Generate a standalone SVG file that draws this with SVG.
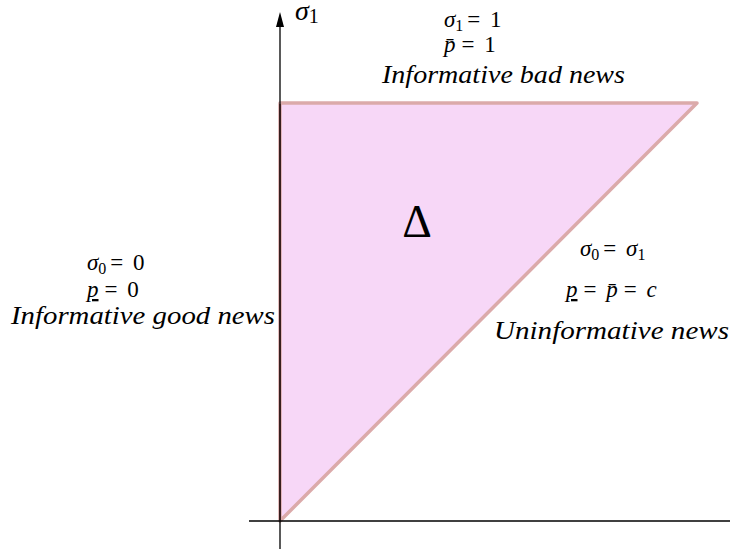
<svg xmlns="http://www.w3.org/2000/svg" width="731" height="554" viewBox="0 0 731 554">
<rect width="731" height="554" fill="#fff"/>
<g id="region">
<polygon points="280,521 280,103 697,103" fill="#f7d7f7" stroke="#dbaaaa" stroke-width="3.5" stroke-linejoin="round"/>
<line x1="280" y1="104" x2="280" y2="520" stroke="#8a3a3a" stroke-width="1.5"/>
<text x="417" y="237" font-family="Liberation Serif" font-size="46" text-anchor="middle">Δ</text>
</g>
<g id="connectors" stroke="#000" stroke-width="1.3" fill="none">
<line x1="249" y1="521" x2="730" y2="521"/>
<line x1="280" y1="549" x2="280" y2="24"/>
<polygon points="280,12 276,27 284,27" fill="#000" stroke="none"/>
</g>
<g id="axis-label">
<text x="295" y="20" font-family="Liberation Serif" font-size="28" font-style="italic">σ<tspan font-style="normal" font-size="20" dy="3">1</tspan></text>
</g>
<g id="top-label">
<text x="444" y="27" font-family="Liberation Serif" font-size="23"><tspan font-style="italic">σ</tspan><tspan font-size="16" dy="4">1</tspan><tspan dy="-4" dx="4">= </tspan><tspan dx="4">1</tspan></text>
<text x="444" y="52" font-family="Liberation Serif" font-size="23"><tspan font-style="italic">p̄</tspan><tspan dx="6">= </tspan><tspan dx="4">1</tspan></text>
<text x="382" y="83" font-family="Liberation Serif" font-size="26" font-style="italic" textLength="243" lengthAdjust="spacingAndGlyphs">Informative bad news</text>
</g>
<g id="left-label">
<text x="87" y="270" font-family="Liberation Serif" font-size="23"><tspan font-style="italic">σ</tspan><tspan font-size="16" dy="4">0</tspan><tspan dy="-4" dx="4">= </tspan><tspan dx="4">0</tspan></text>
<text x="87" y="297" font-family="Liberation Serif" font-size="23"><tspan font-style="italic" text-decoration="underline">p</tspan><tspan dx="6">= </tspan><tspan dx="4">0</tspan></text>
<text x="11" y="324" font-family="Liberation Serif" font-size="26" font-style="italic" textLength="264" lengthAdjust="spacingAndGlyphs">Informative good news</text>
</g>
<g id="right-label">
<text x="580" y="256" font-family="Liberation Serif" font-size="23"><tspan font-style="italic">σ</tspan><tspan font-size="16" dy="4">0</tspan><tspan dy="-4" dx="4">= </tspan><tspan dx="4" font-style="italic">σ</tspan><tspan font-size="16" dy="4">1</tspan></text>
<text x="566" y="297" font-family="Liberation Serif" font-size="23"><tspan font-style="italic" text-decoration="underline">p</tspan><tspan dx="6">= </tspan><tspan dx="4" font-style="italic">p̄</tspan><tspan dx="6">= </tspan><tspan dx="4" font-style="italic">c</tspan></text>
<text x="494" y="339" font-family="Liberation Serif" font-size="26" font-style="italic" textLength="235" lengthAdjust="spacingAndGlyphs">Uninformative news</text>
</g>
</svg>
